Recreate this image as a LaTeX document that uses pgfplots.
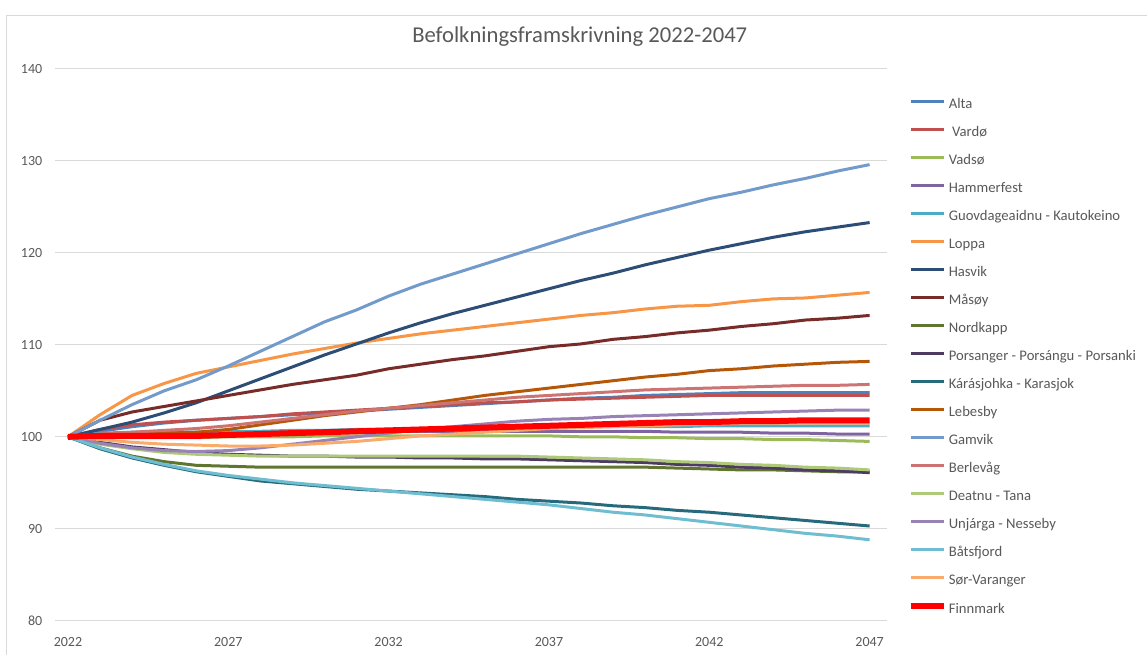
\documentclass[border=0pt]{standalone}
\usepackage{fontspec}
\setmainfont{Carlito}
\usepackage{pgfplots}
\usepackage{pgfplotstable}
\pgfplotsset{compat=1.18}

\definecolor{cAlta}{HTML}{4F81BD}
\definecolor{cVardo}{HTML}{C0504D}
\definecolor{cVadso}{HTML}{9BBB59}
\definecolor{cHammer}{HTML}{8064A2}
\definecolor{cKauto}{HTML}{4BACC6}
\definecolor{cLoppa}{HTML}{F79646}
\definecolor{cHasvik}{HTML}{2C4D75}
\definecolor{cMasoy}{HTML}{772C2A}
\definecolor{cNordk}{HTML}{5F7530}
\definecolor{cPorsa}{HTML}{4D3B62}
\definecolor{cKaras}{HTML}{276A7C}
\definecolor{cLebes}{HTML}{B65708}
\definecolor{cGamvik}{HTML}{729ACA}
\definecolor{cBerle}{HTML}{CD7371}
\definecolor{cTana}{HTML}{AFC97A}
\definecolor{cUnjar}{HTML}{9983B5}
\definecolor{cBatsf}{HTML}{6FBDD1}
\definecolor{cSorv}{HTML}{F9AB6B}
\definecolor{txtgray}{HTML}{595959}
\definecolor{gridgray}{HTML}{D9D9D9}

% index, 2022 = 100
\pgfplotstableread{
yr   alta  vardo vadso hammer kauto loppa hasvik masoy nordk porsa karas lebes gamvik berle tana  unjar batsf sorv  finn
2022 100.0 100.0 100.0 100.0  100.0 100.0 100.0  100.0 100.0 100.0 100.0 100.0 100.0  100.0 100.0 100.0 100.0 100.0 100.0
2023 100.6 100.8 99.9  100.2  100.4 102.4 100.8  101.8 98.8  99.4  98.7  100.2 101.8  100.3 99.2  99.3  98.8  99.7  100.1
2024 101.1 101.3 99.9  100.3  100.5 104.5 101.6  102.7 97.9  98.9  97.7  100.3 103.5  100.5 98.7  98.8  97.8  99.4  100.1
2025 101.5 101.6 99.9  100.4  100.5 105.8 102.6  103.3 97.3  98.6  96.9  100.4 105.0  100.7 98.3  98.5  97.0  99.2  100.1
2026 101.8 101.8 99.9  100.4  100.5 106.9 103.7  103.9 96.9  98.3  96.2  100.5 106.2  100.9 98.1  98.4  96.3  99.1  100.1
2027 102.0 102.0 100.0 100.5  100.6 107.6 105.0  104.5 96.8  98.1  95.7  100.8 107.7  101.2 98.0  98.5  95.8  99.0  100.2
2028 102.2 102.2 100.0 100.5  100.6 108.3 106.3  105.1 96.7  98.0  95.2  101.3 109.3  101.6 97.9  98.8  95.4  99.0  100.3
2029 102.4 102.5 100.0 100.6  100.7 109.0 107.6  105.7 96.7  97.9  94.9  101.8 110.9  102.0 97.9  99.2  95.0  99.1  100.4
2030 102.6 102.7 100.1 100.6  100.7 109.6 108.9  106.2 96.7  97.9  94.6  102.3 112.5  102.4 97.9  99.6  94.7  99.3  100.5
2031 102.8 102.9 100.1 100.6  100.8 110.2 110.1  106.7 96.7  97.8  94.3  102.7 113.8  102.8 97.9  100.0 94.4  99.5  100.6
2032 103.0 103.1 100.1 100.6  100.8 110.7 111.3  107.4 96.7  97.8  94.1  103.1 115.3  103.1 97.9  100.4 94.1  99.8  100.7
2033 103.2 103.3 100.1 100.6  100.9 111.2 112.4  107.9 96.7  97.7  93.9  103.5 116.6  103.4 97.9  100.8 93.8  100.1 100.8
2034 103.4 103.5 100.1 100.6  100.9 111.6 113.4  108.4 96.7  97.7  93.7  104.0 117.7  103.7 97.9  101.1 93.5  100.3 100.9
2035 103.6 103.7 100.1 100.6  101.0 112.0 114.3  108.8 96.7  97.6  93.5  104.5 118.8  104.0 97.9  101.4 93.2  100.5 101.0
2036 103.8 103.8 100.1 100.6  101.0 112.4 115.2  109.3 96.7  97.6  93.2  104.9 119.9  104.3 97.9  101.7 92.9  100.7 101.1
2037 104.0 104.0 100.1 100.6  101.0 112.8 116.1  109.8 96.7  97.5  93.0  105.3 121.0  104.5 97.8  101.9 92.6  100.9 101.2
2038 104.2 104.1 100.0 100.6  101.1 113.2 117.0  110.1 96.7  97.4  92.8  105.7 122.1  104.7 97.7  102.0 92.2  101.0 101.3
2039 104.3 104.2 100.0 100.6  101.1 113.5 117.8  110.6 96.7  97.3  92.5  106.1 123.1  104.9 97.6  102.2 91.8  101.1 101.4
2040 104.5 104.3 99.9  100.6  101.1 113.9 118.7  110.9 96.7  97.2  92.3  106.5 124.1  105.1 97.5  102.3 91.5  101.2 101.5
2041 104.6 104.4 99.9  100.5  101.1 114.2 119.5  111.3 96.6  97.0  92.0  106.8 125.0  105.2 97.3  102.4 91.1  101.3 101.6
2042 104.7 104.5 99.8  100.5  101.2 114.3 120.3  111.6 96.5  96.9  91.8  107.2 125.9  105.3 97.2  102.5 90.7  101.4 101.6
2043 104.8 104.5 99.8  100.5  101.2 114.7 121.0  112.0 96.4  96.7  91.5  107.4 126.6  105.4 97.0  102.6 90.3  101.5 101.7
2044 104.8 104.5 99.7  100.4  101.2 115.0 121.7  112.3 96.4  96.6  91.2  107.7 127.4  105.5 96.9  102.7 89.9  101.5 101.7
2045 104.8 104.5 99.7  100.4  101.2 115.1 122.3  112.7 96.3  96.4  90.9  107.9 128.1  105.6 96.7  102.8 89.5  101.5 101.8
2046 104.8 104.5 99.6  100.3  101.2 115.4 122.8  112.9 96.2  96.3  90.6  108.1 128.9  105.6 96.6  102.9 89.2  101.5 101.8
2047 104.8 104.5 99.5  100.3  101.2 115.7 123.3  113.2 96.2  96.1  90.3  108.2 129.6  105.7 96.4  102.9 88.8  101.5 101.8
}\befolkning

\begin{document}
\begin{tikzpicture}
\begin{axis}[
    scale only axis,
    width=624pt, height=414pt,
    xmin=2021.595, xmax=2047.53,
    ymin=80, ymax=140,
    xtick={2022,2027,...,2047},
    ytick={80,90,...,140},
    ymajorgrids,
    major grid style={gridgray, line width=0.75pt},
    axis line style={draw=none},
    tick style={draw=none},
    /pgf/number format/1000 sep={},
    /pgf/number format/assume math mode=true,
    tick label style={font=\fontsize{10.5}{12}\selectfont, text=txtgray},
    yticklabel style={xshift=-6pt},
    xticklabel style={yshift=-9pt},
    title={Befolkningsframskrivning 2022-2047},
    title style={at={(393.75pt,432pt)}, anchor=center,
        font=\fontsize{17}{20}\selectfont, text=txtgray},
    legend style={at={(1.0204,0.9499)}, anchor=north west, draw=none,
        font=\fontsize{11}{13}\selectfont, text=txtgray,
        nodes={inner sep=0pt, text height=7pt, text depth=2pt},
        row sep=12pt, column sep=1.5pt, cells={anchor=west}},
    legend image code/.code={\draw[#1] (0pt,3pt) -- (24.75pt,3pt);},
    every axis plot/.append style={line width=2.25pt, line join=round},
    clip=false,
]
\addplot[cAlta]   table[x=yr, y=alta]   {\befolkning};
\addlegendentry{Alta}
\addplot[cVardo]  table[x=yr, y=vardo]  {\befolkning};
\addlegendentry{\ Vardø}
\addplot[cVadso]  table[x=yr, y=vadso]  {\befolkning};
\addlegendentry{Vadsø}
\addplot[cHammer] table[x=yr, y=hammer] {\befolkning};
\addlegendentry{Hammerfest}
\addplot[cKauto]  table[x=yr, y=kauto]  {\befolkning};
\addlegendentry{Guovdageaidnu - Kautokeino}
\addplot[cLoppa]  table[x=yr, y=loppa]  {\befolkning};
\addlegendentry{Loppa}
\addplot[cHasvik] table[x=yr, y=hasvik] {\befolkning};
\addlegendentry{Hasvik}
\addplot[cMasoy]  table[x=yr, y=masoy]  {\befolkning};
\addlegendentry{Måsøy}
\addplot[cNordk]  table[x=yr, y=nordk]  {\befolkning};
\addlegendentry{Nordkapp}
\addplot[cPorsa]  table[x=yr, y=porsa]  {\befolkning};
\addlegendentry{Porsanger - Porsángu - Porsanki}
\addplot[cKaras]  table[x=yr, y=karas]  {\befolkning};
\addlegendentry{Kárásjohka - Karasjok}
\addplot[cLebes]  table[x=yr, y=lebes]  {\befolkning};
\addlegendentry{Lebesby}
\addplot[cGamvik] table[x=yr, y=gamvik] {\befolkning};
\addlegendentry{Gamvik}
\addplot[cBerle]  table[x=yr, y=berle]  {\befolkning};
\addlegendentry{Berlevåg}
\addplot[cTana]   table[x=yr, y=tana]   {\befolkning};
\addlegendentry{Deatnu - Tana}
\addplot[cUnjar]  table[x=yr, y=unjar]  {\befolkning};
\addlegendentry{Unjárga - Nesseby}
\addplot[cBatsf]  table[x=yr, y=batsf]  {\befolkning};
\addlegendentry{Båtsfjord}
\addplot[cSorv]   table[x=yr, y=sorv]   {\befolkning};
\addlegendentry{Sør-Varanger}
\addplot[red, line width=4.5pt] table[x=yr, y=finn] {\befolkning};
\addlegendentry{Finnmark}
\end{axis}
% chart frame (left and top edges) and page size
\draw[gridgray, line width=0.75pt] (-36pt,-25.5pt) -- (-36pt,453.75pt) -- (819pt,453.75pt);
\path[use as bounding box] (-41.25pt,-25.5pt) rectangle (819pt,465.75pt);
\end{tikzpicture}
\end{document}
